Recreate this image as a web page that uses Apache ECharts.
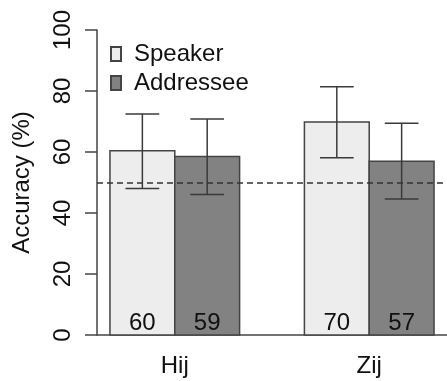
<!DOCTYPE html>
<html><head><meta charset="utf-8">
<script src="https://cdn.jsdelivr.net/npm/echarts@6/dist/echarts.min.js"></script>
<style>html,body{margin:0;padding:0;background:#fff}#c{width:447px;height:381px}</style>
</head><body><div id="c"></div>
<script>
var categories = ['Hij', 'Zij'];
var groupCenters = [2, 5];
var speakerValues = [60.4, 69.8];
var speakerLow = [48.0, 58.1];
var speakerHigh = [72.5, 81.4];
var addresseeValues = [58.5, 57.0];
var addresseeLow = [46.1, 44.6];
var addresseeHigh = [70.8, 69.4];
var speakerLabels = ['60', '70'];
var addresseeLabels = ['59', '57'];
var yTicks = [0, 20, 40, 60, 80, 100];
var chanceLevel = 50;

var FONT = 'Liberation Sans, Arial, sans-serif';
var TXT = '#111';
var FS = 24;

function buildData(offset, vals, lo, hi) {
  return vals.map(function (v, i) {
    return [groupCenters[i] + offset, v, lo[i], hi[i]];
  });
}

function renderBar(fill, labels) {
  return function (params, api) {
    var x = api.value(0), v = api.value(1), lo = api.value(2), hi = api.value(3);
    var lab = labels[params.dataIndex];
    var tl = api.coord([x - 0.5, v]);
    var br = api.coord([x + 0.5, 0]);
    var c = api.coord([x, 0]);
    var pHi = api.coord([x, hi]);
    var pLo = api.coord([x, lo]);
    var capHalf = api.size([0.26, 0])[0];
    var ls = { stroke: '#3a3a3a', lineWidth: 1.5 };
    return {
      type: 'group',
      children: [
        { type: 'rect', shape: { x: tl[0], y: tl[1], width: br[0] - tl[0], height: br[1] - tl[1] },
          style: { fill: fill, stroke: '#444', lineWidth: 1.5 } },
        { type: 'line', shape: { x1: pHi[0], y1: pHi[1], x2: pLo[0], y2: pLo[1] }, style: ls },
        { type: 'line', shape: { x1: pHi[0] - capHalf, y1: pHi[1], x2: pHi[0] + capHalf, y2: pHi[1] }, style: ls },
        { type: 'line', shape: { x1: pLo[0] - capHalf, y1: pLo[1], x2: pLo[0] + capHalf, y2: pLo[1] }, style: ls },
        { type: 'text', style: { x: c[0], y: c[1] - 12, text: lab, fill: TXT, font: FS + 'px ' + FONT,
          textAlign: 'center', textVerticalAlign: 'middle' } }
      ]
    };
  };
}

var chart = echarts.init(document.getElementById('c'));
chart.setOption({
  animation: false,
  backgroundColor: '#fff',
  grid: { left: 97, top: 30, bottom: 46, width: 358 },
  legend: {
    orient: 'vertical', left: 110, top: 42, padding: 0, itemWidth: 10, itemHeight: 14, itemGap: 5,
    icon: 'rect',
    textStyle: { fontSize: FS, fontFamily: FONT, color: TXT, lineHeight: 22, padding: [0, 0, 0, 8] },
    data: ['Speaker', 'Addressee']
  },
  xAxis: {
    type: 'value', min: 0.8, max: 6.2,
    axisLine: { show: true, onZero: false, lineStyle: { color: '#444', width: 1.5 } },
    axisTick: { show: false },
    splitLine: { show: false },
    axisLabel: {
      customValues: groupCenters,
      formatter: function (v) { var i = groupCenters.indexOf(v); return i >= 0 ? categories[i] : ''; },
      fontSize: FS, fontFamily: FONT, color: TXT, margin: 19
    }
  },
  yAxis: {
    type: 'value', min: 0, max: 100, interval: 20,
    name: 'Accuracy (%)', nameLocation: 'middle', nameRotate: 90, nameGap: 63,
    nameTextStyle: { fontSize: FS, fontFamily: FONT, color: TXT },
    axisLine: { show: true, lineStyle: { color: '#444', width: 1.5 } },
    axisTick: { show: true, length: 12, lineStyle: { color: '#444', width: 1.5 } },
    splitLine: { show: false },
    axisLabel: {
      rotate: 90, margin: 22, fontSize: FS, fontFamily: FONT, color: TXT,
      formatter: function (v) { return yTicks.indexOf(v) >= 0 ? String(v) : ''; }
    }
  },
  series: [
    {
      name: 'Speaker', type: 'custom', clip: false,
      itemStyle: { color: '#ededed', borderColor: '#444', borderWidth: 1.5 },
      renderItem: renderBar('#ededed', speakerLabels),
      data: buildData(-0.5, speakerValues, speakerLow, speakerHigh),
      encode: { x: 0, y: [1, 2, 3] },
      markLine: {
        silent: true, symbol: 'none', label: { show: false },
        lineStyle: { color: '#333', type: [6, 4], width: 1.5 },
        data: [{ yAxis: chanceLevel }]
      }
    },
    {
      name: 'Addressee', type: 'custom', clip: false,
      itemStyle: { color: '#828282', borderColor: '#444', borderWidth: 1.5 },
      renderItem: renderBar('#828282', addresseeLabels),
      data: buildData(0.5, addresseeValues, addresseeLow, addresseeHigh),
      encode: { x: 0, y: [1, 2, 3] }
    }
  ]
});
</script>
</body></html>
